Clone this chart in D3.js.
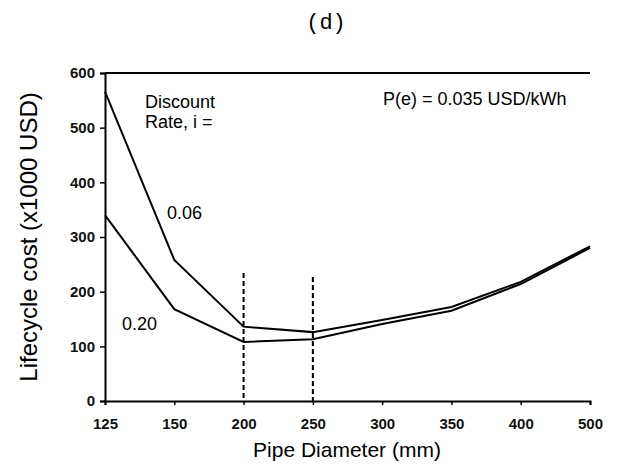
<!DOCTYPE html>
<html><head><meta charset="utf-8">
<script src="https://cdn.jsdelivr.net/npm/d3@7"></script>
<style>body{margin:0;background:#fff}</style>
</head><body>
<svg id="c" width="621" height="465"></svg>
<script>
const diameters = ["125","150","200","250","300","350","400","500"];
const cost006 = [566, 258, 136, 126, 148, 172, 218, 283];
const cost020 = [340, 168, 108, 113, 141, 165, 214, 280];
const yTicks = [0,100,200,300,400,500,600];
const dashedAt = ["200","250"];

const svg = d3.select("#c");
const x = d3.scalePoint().domain(diameters).range([105, 590]);
const y = d3.scaleLinear().domain([0, 600]).range([401, 73]);
const font = "Liberation Sans, Arial, sans-serif";

// top border
svg.append("line").attr("x1",105).attr("x2",590).attr("y1",y(600)).attr("y2",y(600))
  .attr("stroke","#000").attr("stroke-width",2);

const yAxis = svg.append("g").attr("transform","translate(105,0)")
  .call(d3.axisLeft(y).tickValues(yTicks).tickSize(5).tickPadding(5));
const xAxis = svg.append("g").attr("transform",`translate(0,${y(0)})`)
  .call(d3.axisBottom(x).tickSize(4).tickPadding(13));
[yAxis,xAxis].forEach(g=>{
  g.select(".domain").attr("stroke-width",2);
  g.selectAll("line").attr("stroke-width",1.5);
  g.selectAll("text").attr("font-family",font).attr("font-size",15).attr("font-weight","bold").attr("fill","#111");
});

const line = d3.line().x((d,i)=>x(diameters[i])).y(d=>y(d));
[cost006, cost020].forEach(s=>{
  svg.append("path").datum(s).attr("d",line).attr("fill","none")
    .attr("stroke","#000").attr("stroke-width",2);
});

dashedAt.forEach((v,i)=>{
  svg.append("line").attr("x1",x(v)).attr("x2",x(v)).attr("y1",y(i?227:234)).attr("y2",y(0))
    .attr("stroke","#000").attr("stroke-width",2).attr("stroke-dasharray","5,3");
});

const t = (s,xx,yy,size,opts={})=>svg.append("text").attr("x",xx).attr("y",yy)
  .attr("font-family",opts.family||font).attr("font-size",size)
  .attr("text-anchor",opts.anchor||"start").attr("fill","#000").text(s);

t("(d)", 326, 29, 22, {family:"Liberation Mono, Courier New, monospace", anchor:"middle"});
t("Discount", 145, 108, 18);
t("Rate, i =", 145, 128, 18);
t("P(e) = 0.035 USD/kWh", 383, 105, 18);
t("0.06", 167, 219, 18);
t("0.20", 122, 330, 18);
t("Pipe Diameter (mm)", 347, 457, 21, {anchor:"middle"});
svg.append("text").attr("transform",`translate(37,${(y(0)+y(600))/2}) rotate(-90)`)
  .attr("text-anchor","middle").attr("font-family",font).attr("font-size",24)
  .text("Lifecycle cost (x1000 USD)");
</script>
</body></html>
